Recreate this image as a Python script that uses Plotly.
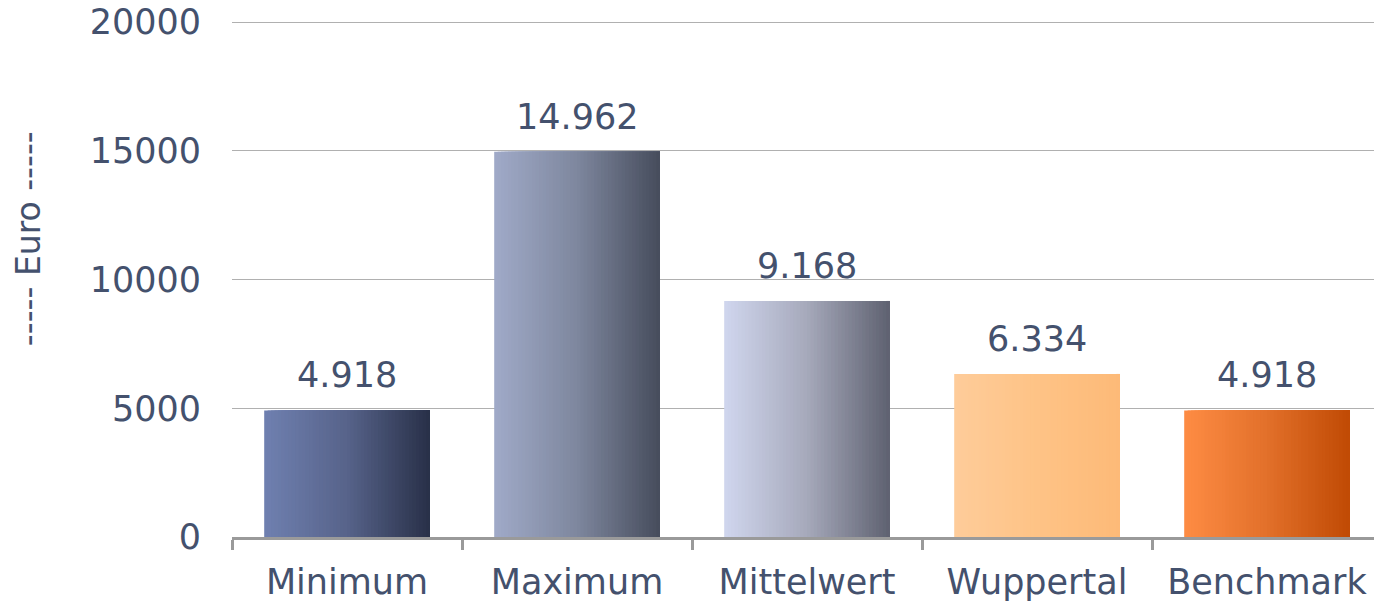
import plotly.graph_objects as go

# data
categories = ["Minimum", "Maximum", "Mittelwert", "Wuppertal", "Benchmark"]
values = [4918, 14962, 9168, 6334, 4918]
y_ticks = [0, 5000, 10000, 15000, 20000]

TEXT = "#44516d"
FONT = "Verdana, DejaVu Sans, sans-serif"
# left / middle / right colours of each bar's horizontal gradient
GRADIENTS = [
    ("#6f80b0", "#57638a", "#283048"),
    ("#a0aac8", "#7e879e", "#464c5c"),
    ("#d0d6ee", "#a6a9bb", "#5e6170"),
    ("#fecc9a", "#fec386", "#fdba78"),
    ("#fe8c44", "#e2702a", "#c04a04"),
]
BAR_W = 0.72
SLICES = 48


def hex_rgb(h):
    h = h.lstrip("#")
    return tuple(int(h[i:i + 2], 16) for i in (0, 2, 4))


def mix(stops, t):
    """Colour at position t (0..1) along a three stop gradient."""
    a, b = (stops[0], stops[1]) if t <= 0.5 else (stops[1], stops[2])
    u = t * 2 if t <= 0.5 else (t - 0.5) * 2
    ca, cb = hex_rgb(a), hex_rgb(b)
    c = [round(ca[k] + (cb[k] - ca[k]) * u) for k in range(3)]
    return "rgb({},{},{})".format(*c)


fig = go.Figure()

# each bar is built from thin overlaid slices to imitate the gradient fill
step = BAR_W / SLICES
for j in range(SLICES):
    t = (j + 0.5) / SLICES
    fig.add_trace(go.Bar(
        x=categories,
        y=values,
        offset=-BAR_W / 2 + j * step,
        width=BAR_W - j * step,
        marker=dict(color=[mix(g, t) for g in GRADIENTS], line=dict(width=0)),
        hoverinfo="skip",
        showlegend=False,
    ))

for cat, val in zip(categories, values):
    fig.add_annotation(
        x=cat, y=val, text=f"{val:,}".replace(",", "."),
        showarrow=False, yanchor="bottom", yshift=13,
        font=dict(size=35, color=TEXT, family=FONT),
    )

fig.add_annotation(
    text="----- Euro -----", textangle=-90, showarrow=False,
    xref="paper", yref="paper", x=-0.177, y=0.577,
    xanchor="center", yanchor="middle",
    font=dict(size=33, color=TEXT, family=FONT),
)

# page body adds an 8px margin, so the figure is drawn 8px smaller
fig.update_layout(
    width=1374,
    height=594,
    margin=dict(l=224, r=0, t=12, b=65),
    barmode="overlay",
    plot_bgcolor="white",
    paper_bgcolor="white",
    font=dict(family=FONT, color=TEXT, size=35),
    xaxis=dict(
        showline=True, linecolor="#9a9a9a", linewidth=3,
        ticks="outside", tickson="boundaries", ticklen=10, tickwidth=3,
        tickcolor="#9a9a9a", ticklabelstandoff=12,
        tickfont=dict(size=35, color=TEXT),
        showgrid=False, automargin=False,
    ),
    yaxis=dict(
        range=[0, 20080], tickvals=y_ticks, tickformat="d",
        showgrid=True, gridcolor="#b0b0b0", gridwidth=1,
        zeroline=False, showline=False, ticks="",
        ticklabelstandoff=30, ticklabeloverflow="allow",
        tickfont=dict(size=35, color=TEXT), automargin=False,
    ),
)

fig.write_html("out.html")
